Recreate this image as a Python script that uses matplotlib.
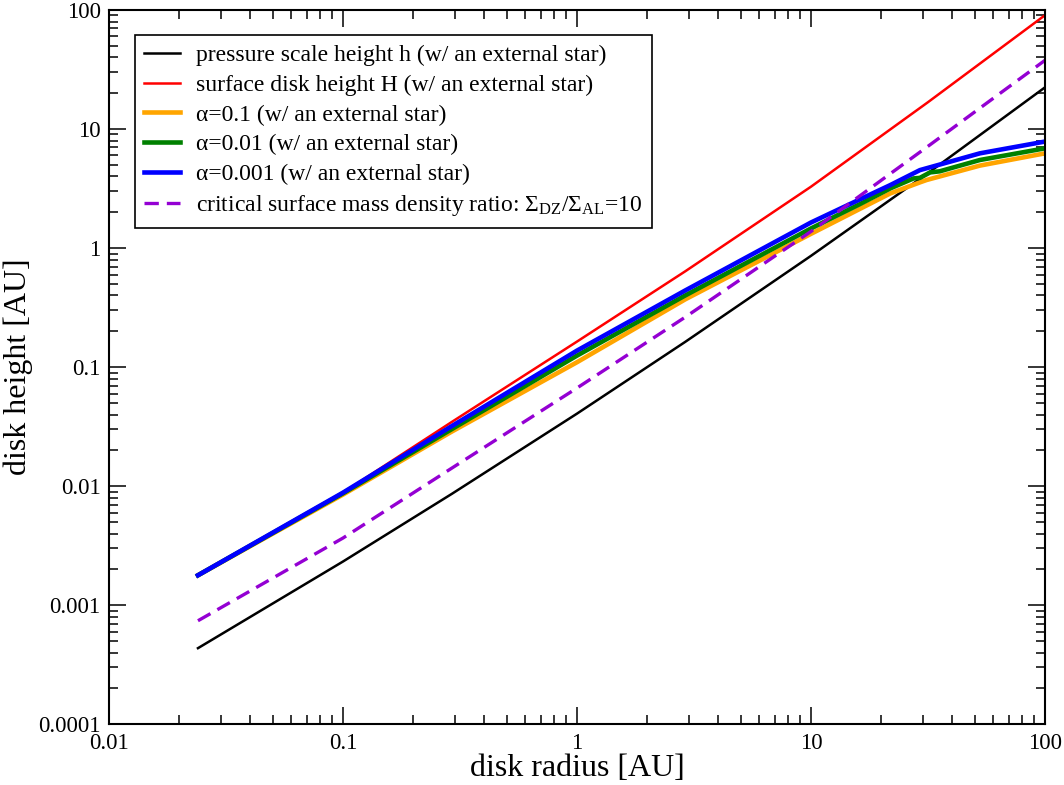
import matplotlib
matplotlib.use("Agg")
import matplotlib.pyplot as plt
from matplotlib.ticker import FixedLocator, FixedFormatter, LogLocator, NullFormatter

plt.rcParams['font.family'] = ['Liberation Serif', 'DejaVu Serif']
plt.rcParams['mathtext.fontset'] = 'custom'
plt.rcParams['mathtext.rm'] = 'Liberation Serif'
plt.rcParams['mathtext.it'] = 'Liberation Serif:italic'

# ---- data ----
x_h = [0.024, 0.1, 0.292, 1.0, 2.9, 10.0, 31.6, 100.0]
y_h = [4.36e-4, 2.33e-3, 8.63e-3, 0.0407, 0.163, 0.861, 4.26, 22.4]

x_H = [0.024, 0.1, 0.292, 1.0, 2.9, 10.0, 31.6, 100.0]
y_H = [1.786e-3, 8.83e-3, 0.0347, 0.164, 0.638, 3.28, 16.8, 90.4]

x_a1 = [0.024, 0.1, 0.292, 1.0, 2.9, 10.0, 16.2, 21.8, 29.2, 31.2, 52.7, 100.0]
y_a1 = [1.786e-3, 8.51e-3, 0.0288, 0.110, 0.371, 1.318, 2.138, 2.877, 3.565, 3.733, 4.932, 6.252]

x_a2 = [0.024, 0.1, 0.292, 1.0, 2.9, 10.0, 16.2, 21.8, 27.4, 29.2, 32.3, 35.5, 52.7, 100.0]
y_a2 = [1.786e-3, 8.71e-3, 0.0302, 0.125, 0.400, 1.462, 2.344, 3.170, 3.846, 3.890, 4.325, 4.416, 5.495, 6.887]

x_a3 = [0.024, 0.1, 0.292, 1.0, 2.9, 10.0, 16.2, 21.8, 29.2, 39.8, 52.7, 100.0]
y_a3 = [1.786e-3, 8.83e-3, 0.0320, 0.1377, 0.4406, 1.641, 2.570, 3.381, 4.519, 5.358, 6.252, 7.852]

x_crit = [0.024, 0.1, 0.292, 1.0, 2.9, 10.0, 16.2, 31.6, 100.0]
y_crit = [7.41e-4, 3.67e-3, 0.0142, 0.0668, 0.263, 1.380, 2.754, 7.16, 37.8]

labels = [
    "pressure scale height h (w/ an external star)",
    "surface disk height H (w/ an external star)",
    "α=0.1 (w/ an external star)",
    "α=0.01 (w/ an external star)",
    "α=0.001 (w/ an external star)",
    r"critical surface mass density ratio: $\Sigma_{\rm DZ}/\Sigma_{\rm AL}$=10",
]

xticks = [0.01, 0.1, 1, 10, 100]
xticklabels = ["0.01", "0.1", "1", "10", "100"]
yticks = [1e-4, 1e-3, 1e-2, 0.1, 1, 10, 100]
yticklabels = ["0.0001", "0.001", "0.01", "0.1", "1", "10", "100"]

# ---- figure ----
fig = plt.figure(figsize=(10.64, 7.85), dpi=100)
ax = fig.add_axes([109/1064, 1-724.3/785, (1045-109)/1064, (724.3-10)/785])

ax.plot(x_h, y_h, color='black', lw=1.8, label=labels[0])
ax.plot(x_H, y_H, color='#ff0000', lw=1.8, label=labels[1])
ax.plot(x_a1, y_a1, color='#ffa500', lw=3.3, label=labels[2])
ax.plot(x_a2, y_a2, color='#008000', lw=3.3, label=labels[3])
ax.plot(x_a3, y_a3, color='#0000ff', lw=3.3, label=labels[4])
ax.plot(x_crit, y_crit, color='#9400d3', lw=2.4, ls=(0, (4.3, 2.4)), label=labels[5])

ax.set_xscale('log')
ax.set_yscale('log')
ax.set_xlim(0.01, 100)
ax.set_ylim(1e-4, 100)

ax.xaxis.set_major_locator(FixedLocator(xticks))
ax.xaxis.set_major_formatter(FixedFormatter(xticklabels))
ax.yaxis.set_major_locator(FixedLocator(yticks))
ax.yaxis.set_major_formatter(FixedFormatter(yticklabels))
ax.xaxis.set_minor_locator(LogLocator(base=10, subs=range(2, 10), numticks=20))
ax.yaxis.set_minor_locator(LogLocator(base=10, subs=range(2, 10), numticks=20))
ax.xaxis.set_minor_formatter(NullFormatter())
ax.yaxis.set_minor_formatter(NullFormatter())

ax.tick_params(which='both', direction='in', top=True, right=True, labelsize=16.5, width=1.1)
ax.tick_params(which='major', length=12, pad=6)
ax.tick_params(which='minor', length=6.5)
for s in ax.spines.values():
    s.set_linewidth(1.5)

ax.set_xlabel("disk radius [AU]", fontsize=23, labelpad=0)
ax.set_ylabel("disk height [AU]", fontsize=23, labelpad=4)

leg = ax.legend(loc='upper left', bbox_to_anchor=((135-109)/936, (724.3-35)/714.3),
                borderaxespad=0, fontsize=17, frameon=True, fancybox=False,
                edgecolor='black', framealpha=1, labelspacing=0.35,
                handlelength=1.5, handletextpad=0.7, borderpad=0.4)
leg.get_frame().set_linewidth(1.2)

fig.savefig("out.png", dpi=100)
